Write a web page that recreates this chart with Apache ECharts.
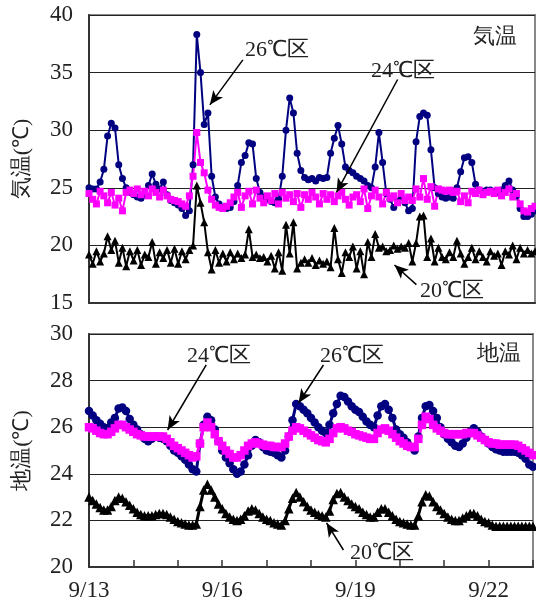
<!DOCTYPE html>
<html>
<head>
<meta charset="utf-8">
<script src="https://cdn.jsdelivr.net/npm/echarts@6/dist/echarts.min.js"></script>
<style>
  html, body { margin: 0; padding: 0; background: #fff; }
  #chart { width: 536px; height: 606px; }
</style>
</head>
<body>
<div id="chart"></div>
<script>
// x軸ラベル（日単位、3日ごと表示）
var dayLabels = ["9/13", "", "", "9/16", "", "", "9/19", "", "", "9/22", ""];
var step = 1 / 12; // 2時間ごと

// 気温
var air26 = [25.0, 24.9, 24.9, 25.5, 26.6, 29.5, 30.6, 30.2, 27.0, 25.8, 25.0, 24.6,
  24.4, 24.2, 24.1, 24.4, 25.2, 26.2, 25.3, 24.9, 25.5, 24.4, 23.9, 23.7,
  23.5, 23.2, 22.6, 23.0, 27.0, 38.3, 35.0, 30.5, 31.5, 26.0, 24.2, 23.6,
  23.3, 23.2, 23.3, 23.8, 25.2, 27.2, 27.8, 28.9, 28.8, 25.8, 24.6, 24.2,
  24.0, 23.8, 23.7, 24.0, 26.0, 30.0, 32.8, 31.5, 28.0, 26.5, 25.9, 25.7,
  25.8, 25.6, 25.9, 25.8, 25.9, 28.0, 29.3, 30.4, 28.8, 26.8, 26.5, 26.3,
  26.0, 25.8, 25.6, 25.2, 25.0, 26.8, 29.8, 27.2, 24.5, 24.0, 23.3, 23.8,
  24.2, 23.7, 23.0, 23.2, 29.0, 31.2, 31.5, 31.3, 28.3, 25.0, 24.5, 24.2,
  24.1, 24.2, 24.1, 25.0, 26.4, 27.6, 27.7, 27.2, 25.3, 24.8, 24.7, 24.8,
  24.8, 24.7, 24.6, 24.8, 25.2, 25.6, 24.8, 24.3, 23.2, 22.5, 22.5, 22.7, 23.0];
var air24 = [24.5, 24.0, 23.6, 24.7, 24.3, 23.7, 24.6, 23.5, 24.1, 23.0, 24.6, 24.8,
  24.5, 24.9, 24.4, 24.7, 24.3, 24.9, 24.6, 24.2, 24.8, 24.3, 24.0, 23.9,
  23.8, 23.6, 23.4, 24.3, 26.0, 29.8, 27.2, 26.3, 24.8, 24.0, 23.5, 23.3,
  23.2, 23.4, 23.7, 24.2, 24.6, 23.3, 24.3, 24.7, 23.6, 24.8, 24.1, 23.7,
  24.3, 23.9, 24.5, 23.6, 24.6, 24.1, 24.4, 23.8, 24.5, 23.3, 24.4, 24.0,
  24.6, 24.2, 23.6, 24.5, 24.0, 24.4, 23.8, 24.3, 24.6, 24.0, 23.5, 24.2,
  24.4, 23.8, 24.9, 23.2, 24.3, 24.8, 24.2, 23.6, 24.6, 24.1, 24.3, 23.7,
  24.5, 23.9, 24.2, 23.9, 24.9, 24.2, 25.8, 24.0, 25.1, 23.4, 24.9, 24.8,
  24.7, 24.8, 24.6, 24.7, 23.8, 24.3, 23.7, 24.7, 24.5, 24.8, 24.4, 24.6,
  24.7, 24.5, 24.8, 24.3, 24.6, 24.9, 24.2, 24.5, 23.6, 23.0, 22.9, 23.2, 23.4];
var air20 = [19.2, 18.4, 19.5, 18.6, 19.3, 20.8, 19.6, 20.4, 18.5, 19.8, 18.2, 19.5,
  18.7, 19.6, 18.3, 19.2, 19.0, 20.3, 18.4, 19.4, 18.9, 19.6, 18.5, 19.7,
  18.4, 19.5, 18.8, 19.6, 20.0, 25.2, 23.7, 22.0, 19.4, 17.9, 19.6, 18.5,
  19.3, 18.6, 19.4, 18.8, 19.3, 18.9, 19.2, 21.4, 19.0, 19.2, 18.9, 19.0,
  18.6, 19.1, 18.0, 19.4, 17.8, 21.8, 19.3, 22.0, 18.0, 18.5, 18.8, 18.5,
  18.9, 18.3, 18.7, 18.4, 18.6, 18.1, 21.5, 18.8, 17.6, 19.4, 19.0, 19.9,
  18.0, 19.5, 17.5, 20.3, 19.0, 21.0, 19.8, 19.9, 19.5, 19.6, 20.0, 19.7,
  19.9, 19.8, 20.2, 18.6, 20.2, 22.5, 22.6, 19.0, 20.6, 18.6, 19.8, 19.0,
  18.8, 19.4, 19.0, 20.4, 19.3, 18.4, 19.0, 19.8, 18.8, 19.5, 19.0, 18.6,
  19.5, 19.1, 19.3, 18.3, 19.5, 19.2, 20.0, 18.8, 19.8, 19.3, 19.6, 19.3, 19.5];

// 地温
var soil26 = [26.7, 26.5, 26.3, 26.15, 26.0, 25.95, 26.2, 26.4, 26.8, 26.85, 26.7, 26.35,
  26.1, 25.9, 25.7, 25.5, 25.4, 25.5, 25.6, 25.55, 25.5, 25.4, 25.2, 25.0,
  24.9, 24.75, 24.6, 24.4, 24.2, 24.1, 25.3, 26.1, 26.45, 26.3, 25.9, 25.4,
  25.0, 24.7, 24.45, 24.2, 24.0, 24.1, 24.4, 24.8, 25.2, 25.45, 25.35, 25.15,
  25.0, 24.95, 24.9, 24.8, 24.7, 25.0, 25.6, 26.3, 27.0, 26.9, 26.75, 26.6,
  26.4, 26.2, 26.0, 25.85, 25.75, 26.1, 26.6, 27.0, 27.35, 27.3, 27.1, 26.9,
  26.75, 26.65, 26.45, 26.25, 26.1, 26.0, 26.5, 26.9, 27.0, 26.75, 26.4, 25.9,
  25.7, 25.55, 25.35, 25.15, 25.0, 25.6, 26.4, 26.9, 26.95, 26.7, 26.4, 26.0,
  25.7, 25.5, 25.35, 25.2, 25.15, 25.3, 25.55, 25.8, 25.95, 25.8, 25.6, 25.45,
  25.3, 25.15, 25.05, 25.0, 24.95, 24.95, 24.95, 24.95, 24.9, 24.8, 24.65, 24.4, 24.3];
var soil24 = [26.0, 25.95, 25.85, 25.75, 25.7, 25.7, 25.8, 25.95, 26.1, 26.1, 26.0, 25.9,
  25.8, 25.7, 25.65, 25.6, 25.6, 25.6, 25.6, 25.6, 25.6, 25.5, 25.35, 25.2,
  25.1, 25.0, 24.9, 24.8, 24.7, 24.75, 25.3, 26.0, 26.2, 26.0, 25.7, 25.4,
  25.2, 25.0, 24.85, 24.7, 24.7, 24.8, 25.0, 25.2, 25.3, 25.35, 25.3, 25.25,
  25.2, 25.2, 25.15, 25.15, 25.15, 25.3, 25.6, 25.85, 26.0, 25.95, 25.85, 25.75,
  25.65, 25.55, 25.45, 25.4, 25.35, 25.5, 25.75, 25.95, 26.0, 25.95, 25.85, 25.8,
  25.7, 25.65, 25.6, 25.55, 25.5, 25.5, 25.75, 25.9, 25.95, 25.85, 25.7, 25.55,
  25.4, 25.3, 25.2, 25.15, 25.15, 25.5, 26.1, 26.45, 26.35, 26.1, 25.95, 25.85,
  25.75, 25.7, 25.7, 25.7, 25.7, 25.7, 25.75, 25.75, 25.75, 25.65, 25.55, 25.45,
  25.35, 25.3, 25.3, 25.25, 25.25, 25.25, 25.25, 25.25, 25.2, 25.1, 25.0, 24.9, 24.8];
var soil20 = [23.0, 22.85, 22.7, 22.55, 22.45, 22.45, 22.6, 22.85, 23.0, 22.95, 22.8, 22.65,
  22.5, 22.35, 22.25, 22.2, 22.2, 22.2, 22.25, 22.3, 22.3, 22.25, 22.15, 22.05,
  21.95, 21.9, 21.85, 21.8, 21.8, 21.85, 22.6, 23.3, 23.55, 23.3, 23.0, 22.7,
  22.5, 22.3, 22.15, 22.05, 22.0, 22.05, 22.2, 22.4, 22.5, 22.45, 22.3, 22.15,
  22.05, 22.0, 21.9, 21.85, 21.8, 22.0, 22.5, 22.95, 23.2, 23.0, 22.8, 22.6,
  22.45, 22.35, 22.25, 22.2, 22.15, 22.4, 22.9, 23.15, 23.2, 23.0, 22.85, 22.7,
  22.6, 22.5, 22.35, 22.25, 22.15, 22.15, 22.35, 22.5, 22.5, 22.35, 22.2, 22.05,
  21.95, 21.9, 21.85, 21.8, 21.8, 22.2, 22.8, 23.1, 23.05, 22.8, 22.6, 22.45,
  22.3, 22.15, 22.05, 22.0, 22.0, 22.1, 22.2, 22.3, 22.3, 22.2, 22.05, 21.95,
  21.9, 21.8, 21.75, 21.75, 21.75, 21.75, 21.75, 21.75, 21.75, 21.75, 21.75, 21.75, 21.75];

var fontFam = "Liberation Serif";
var txtColor = "#222";

function toPairs(arr) {
  return arr.map(function(v, i) { return [i * step, v]; });
}

function arrowLine(from, to) {
  return {
    silent: true,
    symbol: ["none", "arrow"],
    symbolSize: [9, 14],
    label: { show: false },
    lineStyle: { color: "#000", width: 1.5, type: "solid" },
    emphasis: { disabled: true },
    data: [[{ coord: from }, { coord: to }]]
  };
}

function makeSeries(name, data, idx, color, symbol, extra) {
  var big = idx === 1 ? 1.5 : 0; // 地温は点が密
  var s = {
    name: name,
    type: "line",
    xAxisIndex: idx,
    yAxisIndex: idx,
    data: toPairs(data),
    symbol: symbol,
    symbolSize: (symbol === "triangle" ? 8 : 7) + big,
    showAllSymbol: true,
    lineStyle: { color: color, width: idx === 1 ? 3 : 2 },
    itemStyle: { color: color },
    animation: false
  };
  if (extra) s.markLine = extra;
  return s;
}

function yAxis(idx, min, max, interval, name) {
  return {
    type: "value",
    gridIndex: idx,
    min: min,
    max: max,
    interval: interval,
    name: name,
    nameLocation: "middle",
    nameRotate: 90,
    nameGap: 56,
    nameTextStyle: { fontSize: 22, color: txtColor, fontFamily: fontFam },
    axisLabel: { fontSize: 23, color: txtColor, fontFamily: fontFam, margin: 16 },
    axisLine: { show: true, lineStyle: { color: "#333", width: 2 } },
    axisTick: { show: false },
    splitLine: { show: true, lineStyle: { color: "#222", width: 1 } }
  };
}

function xAxis(idx, showLabels) {
  return {
    type: "value",
    gridIndex: idx,
    min: 0,
    max: 10,
    interval: 1,
    axisLine: { show: true, lineStyle: { color: "#333", width: 2 } },
    axisTick: { show: showLabels, inside: true, length: 7, lineStyle: { color: "#333", width: 1.5 } },
    axisLabel: {
      show: showLabels,
      fontSize: 23,
      color: txtColor,
      fontFamily: fontFam,
      margin: 12,
      formatter: function(v) { return dayLabels[Math.round(v)] || ""; }
    },
    splitLine: { show: false }
  };
}

var textStyle = { fontSize: 22, fill: txtColor, fontFamily: fontFam, verticalAlign: "middle" };
function label(x, y, s) {
  return { type: "text", left: x, top: y - 12, style: Object.assign({ text: s }, textStyle) };
}

var option = {
  backgroundColor: "#fff",
  animation: false,
  grid: [
    { left: 89, right: 1, top: 15, height: 288, show: true, borderColor: "#888", borderWidth: 2 },
    { left: 89, right: 1, top: 334, height: 233, show: true, borderColor: "#888", borderWidth: 2 }
  ],
  xAxis: [xAxis(0, false), xAxis(1, true)],
  yAxis: [yAxis(0, 15, 40, 5, "気温(℃)"), yAxis(1, 20, 30, 2, "地温(℃)")],
  series: [
    makeSeries("26℃区", air26, 0, "#000080", "circle",
      arrowLine([3.45, 36.1], [2.71, 32.2])),
    makeSeries("24℃区", air24, 0, "#FF00FF", "rect",
      arrowLine([6.92, 34.4], [5.55, 24.6])),
    makeSeries("20℃区", air20, 0, "#000000", "triangle",
      arrowLine([7.34, 16.6], [6.85, 18.3])),
    makeSeries("26℃区", soil26, 1, "#000080", "circle",
      arrowLine([5.28, 28.67], [4.72, 27.04])),
    makeSeries("24℃区", soil24, 1, "#FF00FF", "rect",
      arrowLine([2.64, 28.67], [1.77, 25.88])),
    makeSeries("20℃区", soil20, 1, "#000000", "triangle",
      arrowLine([5.73, 20.73], [5.35, 21.89]))
  ],
  graphic: [
    label(245, 51, "26℃区"),
    label(371, 72, "24℃区"),
    label(420, 292, "20℃区"),
    label(473, 38, "気温"),
    label(187, 357, "24℃区"),
    label(320, 357, "26℃区"),
    label(350, 554, "20℃区"),
    label(477, 355, "地温")
  ]
};

var chart = echarts.init(document.getElementById("chart"));
chart.setOption(option);
</script>
</body>
</html>
